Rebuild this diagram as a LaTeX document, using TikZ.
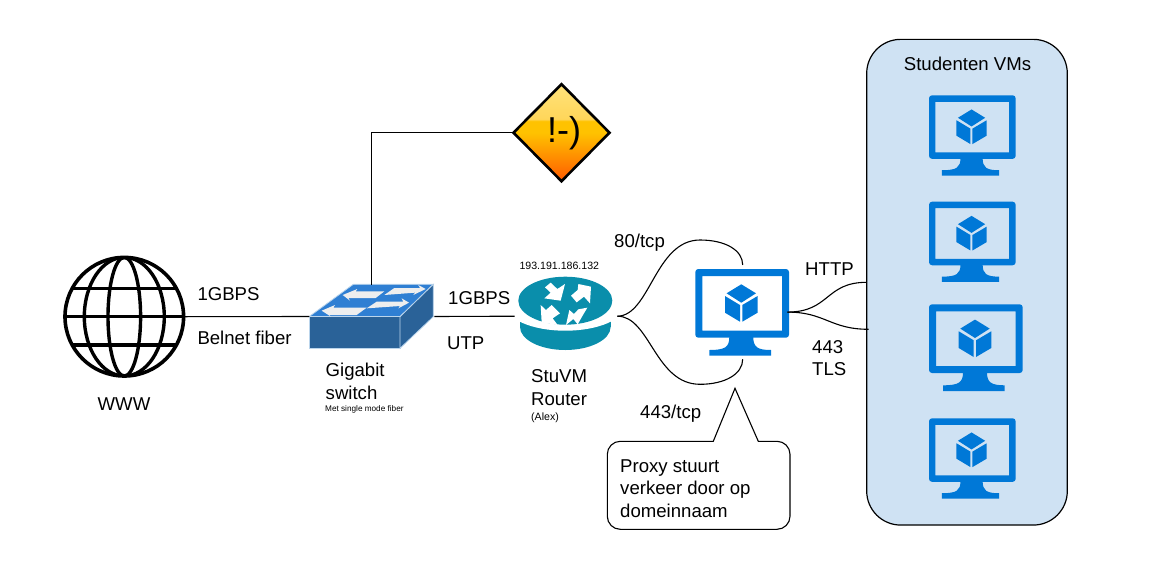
\documentclass[tikz,border=0pt]{standalone}
\usepackage{fontspec}
\setmainfont{Liberation Sans}
\usepackage{xcolor}
\definecolor{vmblue}{HTML}{0078D7}
\definecolor{boxblue}{HTML}{CFE2F3}
\definecolor{routerteal}{HTML}{0A8EAB}
\definecolor{swfront}{HTML}{2A6298}
\definecolor{swtop}{HTML}{2F7FD3}
\definecolor{swedge}{HTML}{BBD5EC}
\definecolor{swarrow}{HTML}{EEEEEE}
\definecolor{warntop}{HTML}{FFE27A}
\definecolor{warngloss}{HTML}{FFD65A}
\definecolor{warnmid}{HTML}{FFC200}
\definecolor{warnlow}{HTML}{FF5A00}
\pgfdeclareverticalshading{warnshade}{100bp}{color(0bp)=(warnlow); color(25bp)=(warnlow); color(50bp)=(warnmid); color(56bp)=(warnmid); color(57bp)=(warngloss); color(75bp)=(warntop); color(100bp)=(warntop)}
\usetikzlibrary{shapes.geometric}
\tikzset{
  lbl/.style ={inner sep=0pt, anchor=base west, align=left, font=\fontsize{18.6}{22.4}\selectfont},
  lblc/.style={lbl, anchor=base, align=center},
  lbls/.style={inner sep=0pt, anchor=base west, font=\fontsize{10.6}{12}\selectfont},
  lblt/.style={inner sep=0pt, anchor=base west, font=\fontsize{8.2}{10}\selectfont},
  link/.style={line width=1.1pt, color=black},
  port/.style={inner sep=0pt, outer sep=0pt},
  globe/.style={circle, draw=black, line width=3.6pt, minimum size=118.6pt, inner sep=0pt, outer sep=0pt},
  warnsign/.style={diamond, shape aspect=1, draw=black, line width=2.6pt, shading=warnshade, minimum width=96pt, minimum height=97pt,
                   inner sep=0pt, outer sep=0pt, font=\fontsize{36}{40}\selectfont},
  vmbox/.style={rectangle, rounded corners=34pt, draw=black, line width=1.2pt, fill=boxblue, minimum width=200.6pt, minimum height=485.7pt,
                inner sep=0pt, outer sep=0pt},
  bubble/.style={draw=black, line width=1.1pt, fill=white},
  vmicon/.pic={
    \fill[vmblue, even odd rule, rounded corners=3pt] (0,0) rectangle (93.7,68.7) [sharp corners] (7,7) rectangle (86.7,61.7);
    \fill[vmblue] (34,68) .. controls (34,78) and (30,81) .. (14,81) -- (14,86.7) -- (75.7,86.7) -- (75.7,81) .. controls (62,81) and (58,78) .. (58,68) -- cycle;
    \fill[vmblue] (46,15.3) -- (60.7,24.3) -- (46,33.7) -- (31.3,24.3) -- cycle;
    \fill[vmblue] (29.7,27) -- (44.7,36) -- (44.7,52.7) -- (29.7,43.7) -- cycle;
    \fill[vmblue] (47,36) -- (62.3,27) -- (62.3,43.7) -- (47,52.7) -- cycle;
  },
}

\begin{document}
\begin{tikzpicture}[x=1pt, y=-1pt]
  \useasboundingbox (0,0) rectangle (1152,571);
  % globe
  \node[globe] (www) at (124.3,316.7) {};
  \begin{scope}
    \clip (124.3,316.7) circle[radius=59.3];
    \draw[line width=3.4pt] (124.3,316.7) ellipse[x radius=16.3, y radius=59.3];
    \draw[line width=3.4pt] (124.3,316.7) ellipse[x radius=40, y radius=59.3];
    \foreach \dy in {-28.3,0,28.3} \draw[line width=3.4pt] (60,316.7+\dy) -- (190,316.7+\dy);
  \end{scope}
  % switch
  \node[port, minimum width=125pt, minimum height=64pt] (sw) at (371.8,316.5) {};
  \begin{scope}[line width=.8pt, draw=swedge]
    \filldraw[fill=swtop] (309,316.7) -- (353.3,284.3) -- (433.3,284.3) -- (400,316.7) -- cycle;
    \filldraw[fill=swfront] (309,316.7) rectangle (400,348.3);
    \filldraw[fill=swfront] (400,316.7) -- (433.3,284.3) -- (433.3,316.7) -- (400,348.3) -- cycle;
  \end{scope}
  \begin{scope}[shift={(305,280)}, scale=1/3]
    \fill[swarrow] (113,45) -- (157,27) -- (152,34) -- (238,34) -- (212,54) -- (130,54) -- (135,62) -- cycle;
    \fill[swarrow] (268,24) -- (345,24) -- (340,15) -- (362,27) -- (325,45) -- (330,38) -- (238,45) -- cycle;
    \fill[swarrow] (50,92) -- (90,75) -- (85,83) -- (185,83) -- (155,105) -- (72,105) -- (78,110) -- cycle;
    \fill[swarrow] (215,65) -- (295,65) -- (290,55) -- (312,68) -- (280,85) -- (285,78) -- (185,85) -- cycle;
  \end{scope}
  % warning sign
  \node[warnsign] (warn) at (561.5,132.7) {\hspace*{5pt}!-)};
  % router
  \node[port, minimum width=102.6pt, minimum height=73pt] (rtr) at (566,316.2) {};
  \fill[routerteal] (565.3,327) ellipse[x radius=45.3, y radius=23];
  \fill[routerteal] (520,320) rectangle (610.6,327);
  \fill[white] (565.3,304.7) ellipse[x radius=60, y radius=26];
  \fill[routerteal] (565.3,300.7) ellipse[x radius=47, y radius=24];
  \begin{scope}[shift={(510,270)}, scale=1/3]
    \fill[white] (122,38) -- (142,57) -- (165,42) -- (152,92) -- (103,85) -- (122,68) -- (105,52) -- cycle;
    \fill[white] (205,42) -- (243,50) -- (240,100) -- (222,80) -- (200,97) -- (183,77) -- (203,60) -- cycle;
    \fill[white] (92,105) -- (108,120) -- (125,105) -- (150,130) -- (128,145) -- (143,165) -- (95,157) -- cycle;
    \fill[white] (168,165) -- (178,120) -- (192,132) -- (205,118) -- (232,113) -- (216,140) -- (203,163) -- (190,147) -- cycle;
  \end{scope}
  % proxy and student VMs
  \node[port, minimum width=89.3pt, minimum height=94.3pt] (proxy) at (742.7,312.1) {};
  \pic at (695.3,269) {vmicon};
  \node[vmbox] (vms) at (967,282.2) {};
  \pic[scale=.925] at (929,95.3) {vmicon};
  \pic[scale=.925] at (929,201.7) {vmicon};
  \pic at (929,304.3) {vmicon};
  \pic[scale=.925] at (929,418.3) {vmicon};
  \coordinate (vmhttp) at (866.7,282.3);
  \coordinate (vmtls) at (868.7,329.3);
  % links
  \draw[link] (www.east) -- (sw.west);
  \draw[link] (sw.east) -- (rtr.west);
  \draw[link] (sw.north) |- (warn.west);
  \draw[link] (rtr.east) .. controls (650,316) and (655,240) .. (700,240) .. controls (725,240) and (742.7,250) .. (proxy.north);
  \draw[link] (rtr.east) .. controls (650,316) and (655,384.3) .. (700,384.3) .. controls (725,384.3) and (742.7,374) .. (proxy.south);
  \draw[link] (proxy.east) .. controls (830,312) and (825,282.3) .. (vmhttp);
  \draw[link] (proxy.east) .. controls (825,312) and (830,329.3) .. (vmtls);
  % note
  \draw[bubble] (758.3,441.3) [rounded corners=13pt] -- (790,441.3) -- (790,529.3) -- (607.3,529.3) -- (607.3,441.3) [sharp corners] -- (713.3,441.3) -- (735,388.3) -- cycle;
  % labels
  \node[lblc] (lwww) at (124,410) {WWW};
  \node[lbl] (l1g) at (197.3,300) {1GBPS};
  \node[lbl] (lbel) at (197.3,344.7) {Belnet fiber};
  \node[lbl] (lsw) at (325.5,399) {Gigabit\\switch};
  \node[lblt] (lmet) at (325,411) {Met single mode fiber};
  \node[lbl] (l1g2) at (448,304) {1GBPS};
  \node[lbl] (lutp) at (447,349) {UTP};
  \node[lbls] (lip) at (519.3,269) {193.191.186.132};
  \node[lbl] (lrtr) at (531,405) {StuVM\\Router};
  \node[lbls] (lalex) at (531,420) {(Alex)};
  \node[lbl] (l80) at (614,247) {80/tcp};
  \node[lbl] (l443) at (640,418) {443/tcp};
  \node[lbl] (lhttp) at (805,275) {HTTP};
  \node[lbl] (ltls) at (812,375.7) {443\\TLS};
  \node[lbl] (lvms) at (903.7,70) {Studenten VMs};
  \node[lbl] (lnote) at (620,517) {Proxy stuurt\\verkeer door op\\domeinnaam};
\end{tikzpicture}
\end{document}
